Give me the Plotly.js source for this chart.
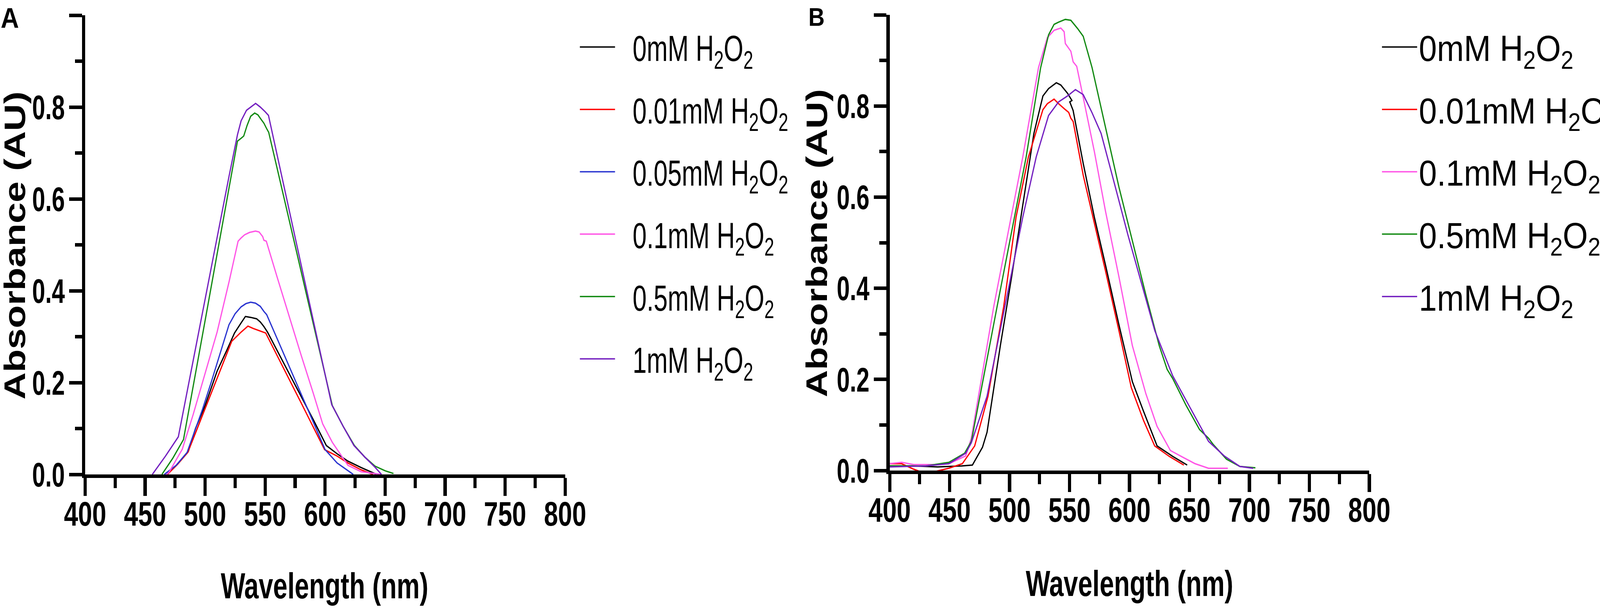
<!DOCTYPE html>
<html>
<head>
<meta charset="utf-8">
<script src="https://cdn.plot.ly/plotly-3.0.1.min.js"></script>
<style>
html,body{margin:0;padding:0;background:#fff;overflow:hidden;}
#chart{width:4550px;height:1566px;transform-origin:0 0;}
</style>
</head>
<body>
<div id="chart"></div>
<script>
// ---------- legend labels ----------
const seriesLabels = ['0mM H<sub>2</sub>O<sub>2</sub>', '0.01mM H<sub>2</sub>O<sub>2</sub>', '0.05mM H<sub>2</sub>O<sub>2</sub>',
                      '0.1mM H<sub>2</sub>O<sub>2</sub>', '0.5mM H<sub>2</sub>O<sub>2</sub>', '1mM H<sub>2</sub>O<sub>2</sub>'];
const seriesColors = ['#000000', '#ff0000', '#2b35d0', '#ff55e6', '#138a13', '#7420c0'];

// ---------- Panel A : wavelength (nm) / absorbance (AU) ----------
const wlA_0 = [468, 476, 486, 492, 500, 510, 518, 524.5, 530, 533.6, 538, 542.9, 546, 549, 552, 560, 570, 580, 590, 601, 610, 619, 630, 643];
const absA_0 = [0, 0.02, 0.05, 0.1, 0.15, 0.225, 0.27, 0.308, 0.33, 0.344, 0.342, 0.339, 0.332, 0.322, 0.31, 0.27, 0.22, 0.17, 0.12, 0.063, 0.045, 0.029, 0.015, 0];

const wlA_001 = [468.6, 477, 485.6, 492, 500, 510, 522.2, 530, 535.7, 540, 545, 550.5, 560, 570, 580, 590, 599.6, 610, 619, 630, 640];
const absA_001 = [0, 0.022, 0.048, 0.09, 0.143, 0.209, 0.29, 0.31, 0.323, 0.318, 0.313, 0.308, 0.259, 0.208, 0.156, 0.104, 0.054, 0.04, 0.025, 0.01, 0];

const wlA_005 = [466, 476, 485, 492, 497.6, 505, 512, 519.9, 525, 530, 534, 538, 542, 546, 549, 551.3, 560, 570, 580, 590, 600, 610, 623.5];
const absA_005 = [0, 0.02, 0.048, 0.1, 0.14, 0.2, 0.26, 0.326, 0.35, 0.365, 0.372, 0.375, 0.373, 0.366, 0.355, 0.348, 0.296, 0.236, 0.176, 0.115, 0.054, 0.025, 0];

const wlA_01 = [466, 470, 481, 490, 500, 510, 520, 527.5, 530, 533, 537, 542, 545, 548, 549, 551, 560, 570, 580, 590, 598, 606, 619, 630, 647];
const absA_01 = [-0.005, 0.005, 0.055, 0.13, 0.22, 0.31, 0.42, 0.508, 0.515, 0.522, 0.527, 0.53, 0.528, 0.518, 0.51, 0.508, 0.43, 0.345, 0.26, 0.178, 0.11, 0.07, 0.02, 0.006, 0];

const wlA_05 = [464, 473, 482, 490, 500, 510, 520, 527, 530, 532.2, 535, 538, 541.3, 544, 547, 549, 551.3, 553, 560, 570, 580, 590, 606, 615, 624.4, 633, 641.6, 650, 657];
const absA_05 = [0, 0.035, 0.076, 0.19, 0.335, 0.48, 0.625, 0.726, 0.732, 0.737, 0.76, 0.78, 0.787, 0.783, 0.772, 0.765, 0.753, 0.745, 0.667, 0.555, 0.443, 0.331, 0.15, 0.105, 0.063, 0.038, 0.018, 0.008, 0.002];

const wlA_1 = [456, 467, 477.7, 490, 500, 510, 520, 527, 530, 534.5, 538, 542.1, 546, 550, 552.8, 560, 570, 580, 590, 605.5, 615, 624, 633, 641.5, 647];
const absA_1 = [0, 0.04, 0.082, 0.247, 0.381, 0.515, 0.65, 0.74, 0.77, 0.793, 0.8, 0.808, 0.8, 0.79, 0.782, 0.696, 0.576, 0.457, 0.337, 0.152, 0.105, 0.063, 0.038, 0.016, 0];

// ---------- Panel B ----------
const wlB_0 = [400, 420, 440, 460, 469, 477.4, 481.2, 492.3, 501.7, 511, 520.3, 527.8, 532.5, 539, 542.7, 548.3, 552, 550.2, 553, 561.4, 570.7, 580, 591.2, 602.4, 611.7, 623, 636, 648.1];
const absB_0 = [0.01, 0.01, 0.008, 0.01, 0.012, 0.051, 0.084, 0.274, 0.425, 0.582, 0.74, 0.822, 0.838, 0.851, 0.846, 0.828, 0.812, 0.809, 0.79, 0.674, 0.556, 0.451, 0.32, 0.195, 0.13, 0.054, 0.031, 0.012];

const wlB_001 = [400, 410, 420, 428, 435, 445, 449.4, 460.6, 470.9, 482, 495.1, 505.4, 515.7, 527.8, 531.5, 537.1, 540.9, 546.5, 549.3, 551.1, 553, 561.4, 570.7, 580, 591.2, 601.5, 611.7, 621, 633.2, 645.3];
const absB_001 = [0.015, 0.015, 0.003, -0.005, -0.004, 0.002, 0.005, 0.015, 0.054, 0.163, 0.36, 0.556, 0.688, 0.792, 0.805, 0.815, 0.805, 0.792, 0.786, 0.773, 0.766, 0.648, 0.543, 0.438, 0.307, 0.182, 0.11, 0.054, 0.031, 0.012];

// 0.05 mM curve is not visible in panel B (only its legend entry is)
const wlB_005 = [];
const absB_005 = [];

const wlB_01 = [400, 410, 420, 440, 449.4, 463.4, 468.1, 486.8, 511, 524.1, 531.5, 537.1, 542.7, 545.5, 546.5, 551.1, 553, 556, 561.4, 570.7, 580, 591.2, 602.4, 613.6, 623, 634.1, 645.3, 654.7, 665.9, 682];
const absB_01 = [0.015, 0.018, 0.013, 0.013, 0.015, 0.032, 0.071, 0.36, 0.688, 0.884, 0.95, 0.966, 0.971, 0.963, 0.937, 0.92, 0.897, 0.887, 0.819, 0.7, 0.569, 0.425, 0.274, 0.169, 0.097, 0.044, 0.028, 0.015, 0.005, 0.005];

const wlB_05 = [400, 430, 449.4, 462.5, 468.1, 489.6, 513.8, 525.9, 532.5, 537.1, 540.9, 546.5, 551.1, 556.7, 561.4, 568.8, 580, 591.2, 602.4, 613.6, 624.8, 631.4, 636, 647.2, 658.4, 665.9, 669.6, 680.8, 692, 705];
const absB_05 = [0.01, 0.01, 0.018, 0.038, 0.064, 0.36, 0.688, 0.884, 0.956, 0.979, 0.984, 0.99, 0.988, 0.97, 0.953, 0.884, 0.753, 0.622, 0.504, 0.386, 0.274, 0.222, 0.202, 0.143, 0.09, 0.071, 0.058, 0.025, 0.009, 0.006];

const wlB_1 = [400, 430, 449.4, 463.4, 468.1, 481.2, 496.1, 511, 522.2, 532.5, 540.9, 548.3, 554.9, 561.4, 568.8, 576.3, 585.6, 598.7, 609.9, 621.1, 636, 651, 665.9, 679, 692, 703.2];
const absB_1 = [0.008, 0.01, 0.015, 0.038, 0.061, 0.163, 0.36, 0.556, 0.688, 0.779, 0.809, 0.822, 0.836, 0.825, 0.785, 0.74, 0.648, 0.517, 0.412, 0.307, 0.208, 0.136, 0.064, 0.032, 0.009, 0.005];

// ---------- axis tick labels / titles ----------
const xTickVals = [400, 450, 500, 550, 600, 650, 700, 750, 800];
const yTickVals = [0.0, 0.2, 0.4, 0.6, 0.8, 1.0];
const xTitle = 'Wavelength (nm)';
const yTitle = 'Absorbance (AU)';

const panelA = [[wlA_0, absA_0], [wlA_001, absA_001], [wlA_005, absA_005], [wlA_01, absA_01], [wlA_05, absA_05], [wlA_1, absA_1]];
const panelB = [[wlB_0, absB_0], [wlB_001, absB_001], [wlB_005, absB_005], [wlB_01, absB_01], [wlB_05, absB_05], [wlB_1, absB_1]];

const SANS = "'Liberation Sans', Arial, sans-serif";

const traces = [];
panelA.forEach((s, i) => traces.push({
  x: s[0], y: s[1], type: 'scatter', mode: 'lines', name: seriesLabels[i],
  line: {color: seriesColors[i], width: 3.5}, xaxis: 'x', yaxis: 'y',
  legend: 'legend', legendgroup: 'a' + i
}));
panelB.forEach((s, i) => traces.push({
  x: s[0], y: s[1], type: 'scatter', mode: 'lines', name: seriesLabels[i],
  line: {color: seriesColors[i], width: 3.5}, xaxis: 'x2', yaxis: 'y2',
  legend: 'legend2', legendgroup: 'b' + i
}));

const W = 4550, H = 1566;
function xAxis(domain, anchor) {
  return {
    domain: domain, anchor: anchor, range: [400, 800], autorange: false,
    showline: true, linecolor: '#000', linewidth: 9, mirror: false,
    showgrid: false, zeroline: false,
    tickmode: 'array', tickvals: xTickVals, ticktext: xTickVals.map(String),
    ticks: 'outside', ticklen: 46, tickwidth: 9, tickcolor: '#000',
    minor: {dtick: 25, tick0: 400, ticks: 'outside', ticklen: 26, tickwidth: 9, tickcolor: '#000', showgrid: false},
    tickfont: {family: SANS, size: 88, color: '#000', weight: 'bold'},
    ticklabelstandoff: -30,
    title: {text: xTitle, font: {family: SANS, size: 92, color: '#000', weight: 'bold'}, standoff: 80},
    fixedrange: true
  };
}
function yAxis(domain, anchor) {
  return {
    domain: domain, anchor: anchor, range: [0, 1], autorange: false,
    showline: true, linecolor: '#000', linewidth: 9, mirror: false,
    showgrid: false, zeroline: false,
    tickmode: 'array', tickvals: yTickVals, ticktext: yTickVals.map(v => v.toFixed(1)),
    ticks: 'outside', ticklen: 36, tickwidth: 9, tickcolor: '#000',
    minor: {dtick: 0.1, tick0: 0, ticks: 'outside', ticklen: 20, tickwidth: 9, tickcolor: '#000', showgrid: false},
    tickfont: {family: SANS, size: 88, color: '#000', weight: 'bold'},
    ticklabelstandoff: -5,
    title: {text: yTitle, font: {family: SANS, size: 84, color: '#000', weight: 'bold'}, standoff: 10},
    fixedrange: true
  };
}

const legendCommon = {
  xanchor: 'left', yanchor: 'top', bgcolor: 'rgba(0,0,0,0)', borderwidth: 0,
  font: {family: SANS, size: 92, color: '#000'}, itemwidth: 100, traceorder: 'grouped',
  tracegroupgap: 37, itemclick: false, itemdoubleclick: false
};

const layout = {
  width: W, height: H,
  margin: {l: 0, r: 0, t: 0, b: 0, pad: 0, autoexpand: false},
  paper_bgcolor: '#fff', plot_bgcolor: '#fff',
  showlegend: true,
  xaxis: xAxis([242 / W, 1607 / W], 'y'),
  yaxis: yAxis([(H - 1214) / H, (H - 39) / H], 'x'),
  xaxis2: xAxis([2530 / W, 3894 / W], 'y2'),
  yaxis2: yAxis([(H - 1204) / H, (H - 38) / H], 'x2'),
  legend: Object.assign({}, legendCommon, {x: 1644 / W, y: 1 - 54 / H}),
  legend2: Object.assign({}, legendCommon, {x: 3925 / W, y: 1 - 54 / H}),
  annotations: [
    {text: 'A', xref: 'paper', yref: 'paper', x: 0, y: 1 - 4 / H, xanchor: 'left', yanchor: 'top', showarrow: false,
     font: {family: SANS, size: 72, color: '#000', weight: 'bold'}},
    {text: 'B', xref: 'paper', yref: 'paper', x: 2297 / W, y: 1 - 6 / H, xanchor: 'left', yanchor: 'top', showarrow: false,
     font: {family: SANS, size: 64, color: '#000', weight: 'bold'}}
  ]
};

// Horizontal scaling of text around its anchor (the original uses a condensed face),
// optionally followed by moving the text so that its box is centred on a target point
// (target given in figure pixels).
function fitText(el, s, shift, target) {
  const cur = el.getAttribute('transform') || '';
  if (el.__final !== undefined && cur === el.__final) return;
  const x = parseFloat(el.getAttribute('x')) || 0;
  let t = cur + ' translate(' + (shift + x) + ',0) scale(' + s + ',1) translate(' + (-x) + ',0)';
  el.setAttribute('transform', t);
  if (target) {
    const gd = document.getElementById('chart');
    const cr = gd.getBoundingClientRect();
    const kx = cr.width / W, ky = cr.height / H;
    const r = el.getBoundingClientRect();
    const cx = (r.left - cr.left + r.width / 2) / kx;
    const cy = (r.top - cr.top + r.height / 2) / ky;
    t = 'translate(' + (target[0] - cx) + ',' + (target[1] - cy) + ') ' + t;
    el.setAttribute('transform', t);
  }
  el.__final = t;
}
function restyleTexts() {
  const gd = document.getElementById('chart');
  gd.querySelectorAll('.xtick text, .x2tick text').forEach(el => fitText(el, 0.82, 0));
  gd.querySelectorAll('.ytick text, .y2tick text').forEach(el => fitText(el, 0.76, 0));
  gd.querySelectorAll('.g-xtitle text').forEach(el => fitText(el, 0.8, 0, [923, 1500]));
  gd.querySelectorAll('.g-x2title text').forEach(el => fitText(el, 0.8, 0, [3212, 1494]));
  gd.querySelectorAll('.g-ytitle text').forEach(el => fitText(el, 1.15, 0, [42, 628]));
  gd.querySelectorAll('.g-y2title text').forEach(el => fitText(el, 1.15, 0, [2322, 622]));
  gd.querySelectorAll('.legendtext').forEach(el => { if (el.tagName.toLowerCase() === 'text') fitText(el, 0.78, 45); });
}
// make the 4550x1566 figure fill the actual viewport exactly
function fitViewport() {
  const vw = window.innerWidth || document.documentElement.clientWidth || W;
  const vh = window.innerHeight || document.documentElement.clientHeight || H;
  const kx = vw / W, ky = vh / H;
  const el = document.getElementById('chart');
  el.style.transform = (Math.abs(kx - 1) > 0.002 || Math.abs(ky - 1) > 0.002) ? 'scale(' + kx + ',' + ky + ')' : 'none';
}
function refresh() { restyleTexts(); fitViewport(); }

const gdEl = document.getElementById('chart');
gdEl.addEventListener && null;
Plotly.newPlot('chart', traces, layout, {staticPlot: true, displayModeBar: false}).then(gd => {
  refresh();
  gd.on('plotly_afterplot', refresh);
  window.addEventListener('resize', fitViewport);
  // legends may be (re)drawn slightly later: process any newly added text as well
  let pending = false;
  const obs = new MutationObserver(() => {
    if (pending) return;
    pending = true;
    requestAnimationFrame(() => { pending = false; refresh(); });
  });
  obs.observe(gd, {childList: true, subtree: true});
  [50, 200, 600, 1500].forEach(ms => setTimeout(refresh, ms));
});
</script>
</body>
</html>
